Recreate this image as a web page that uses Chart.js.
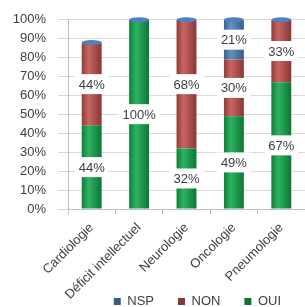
<!DOCTYPE html>
<html>
<head>
<meta charset="utf-8">
<script src="https://cdn.jsdelivr.net/npm/chart.js@4/dist/chart.umd.min.js"></script>
<style>
  html, body { margin: 0; padding: 0; background: #fff; }
  #wrap { width: 305px; height: 307px; }
</style>
</head>
<body>
<div id="wrap"><canvas id="c" width="305" height="307"></canvas></div>
<script>
const categories = ["Cardiologie", "Déficit intellectuel", "Neurologie", "Oncologie", "Pneumologie"];
const oui = [44, 100, 32, 49, 67];
const non = [44, 0, 68, 30, 33];
const nsp = [0, 0, 0, 21, 0];
const yTicks = [0, 10, 20, 30, 40, 50, 60, 70, 80, 90, 100];

const GREEN = "#12a84c";
const RED = "#c0504d";
const BLUE = "#4f81bd";
const FONT = "'Liberation Sans', Arial, sans-serif";

// horizontal shading so the bars read like cylinders
function cylinder(base) {
  return (ctx) => {
    const chart = ctx.chart;
    const x = chart.scales.x;
    if (!x || ctx.dataIndex === undefined || !chart.chartArea) return base;
    const cx = x.getPixelForValue(ctx.dataIndex);
    const g = chart.ctx.createLinearGradient(cx - 10, 0, cx + 10, 0);
    g.addColorStop(0, shade(base, -0.25));
    g.addColorStop(0.35, shade(base, 0.12));
    g.addColorStop(1, shade(base, -0.3));
    return g;
  };
}

function shade(hex, amt) {
  const n = parseInt(hex.slice(1), 16);
  let r = (n >> 16) & 255, g = (n >> 8) & 255, b = n & 255;
  const f = (v) => Math.round(amt < 0 ? v * (1 + amt) : v + (255 - v) * amt);
  return `rgb(${f(r)},${f(g)},${f(b)})`;
}

// legend sits low and a bit in from the right edge, like the original;
// the x labels are allowed to run down past their box
const legendSpot = {
  id: "legendSpot",
  afterLayout(chart) {
    const lg = chart.legend;
    const h = lg.bottom - lg.top;
    lg.top = 307 - h + 11;
    lg.bottom = lg.top + h;
    lg.right = 305;
    chart.scales.x.bottom = chart.height;
  }
};

const valueLabels = {
  id: "valueLabels",
  afterDatasetsDraw(chart) {
    const c = chart.ctx;
    c.save();
    // blue top caps
    for (let i = 0; i < categories.length; i++) {
      let top = null;
      chart.data.datasets.forEach((ds, d) => {
        const el = chart.getDatasetMeta(d).data[i];
        if (ds.data[i] > 0 && (!top || el.y < top.y)) top = el;
      });
      if (top) {
        c.fillStyle = BLUE;
        c.beginPath();
        c.ellipse(top.x, top.y, top.width / 2, 2.5, 0, 0, Math.PI * 2);
        c.fill();
      }
    }
    c.font = "13px " + FONT;
    c.textAlign = "center";
    c.textBaseline = "middle";
    chart.data.datasets.forEach((ds, d) => {
      chart.getDatasetMeta(d).data.forEach((el, i) => {
        const v = ds.data[i];
        if (!v) return;
        const txt = v + "%";
        const y = (el.y + el.base) / 2;
        const w = c.measureText(txt).width + 8;
        c.fillStyle = "#fff";
        c.fillRect(el.x - w / 2, y - 10, w, 20);
        c.fillStyle = "#404040";
        c.fillText(txt, el.x, y + 1);
      });
    });
    c.restore();
  }
};

new Chart(document.getElementById("c"), {
  type: "bar",
  data: {
    labels: categories,
    datasets: [
      { label: "OUI", data: oui, backgroundColor: cylinder(GREEN) },
      { label: "NON", data: non, backgroundColor: cylinder(RED) },
      { label: "NSP", data: nsp, backgroundColor: cylinder(BLUE) }
    ]
  },
  options: {
    responsive: false,
    animation: false,
    barPercentage: 0.84,
    categoryPercentage: 0.5,
    layout: { padding: { top: 18, right: 0, left: 0, bottom: 0 } },
    plugins: {
      tooltip: { enabled: false },
      legend: {
        position: "bottom",
        align: "end",
        reverse: true,
        labels: {
          boxWidth: 7,
          boxHeight: 7,
          padding: 24,
          color: "#404040",
          font: { family: FONT, size: 13 }
        }
      }
    },
    scales: {
      x: {
        stacked: true,
        afterFit: (s) => { s.height = 307 - 201 - 18 - 37; },
        grid: { offset: true, drawOnChartArea: false, tickLength: 5, color: "#bfbfbf" },
        border: { color: "#bfbfbf" },
        ticks: {
          minRotation: 45,
          maxRotation: 45,
          autoSkip: false,
          color: "#404040",
          padding: 6,
          font: { family: FONT, size: 13 }
        }
      },
      y: {
        stacked: true,
        min: 0,
        max: 100,
        afterBuildTicks: (s) => { s.ticks = yTicks.map((v) => ({ value: v })); },
        afterFit: (s) => { s.width = 68; },
        grid: { color: "#d9d9d9", tickLength: 10 },
        border: { color: "#bfbfbf" },
        ticks: {
          autoSkip: false,
          color: "#404040",
          padding: 12,
          callback: (v) => v + "%",
          font: { family: FONT, size: 13 }
        }
      }
    }
  },
  plugins: [valueLabels, legendSpot]
});
</script>
</body>
</html>
